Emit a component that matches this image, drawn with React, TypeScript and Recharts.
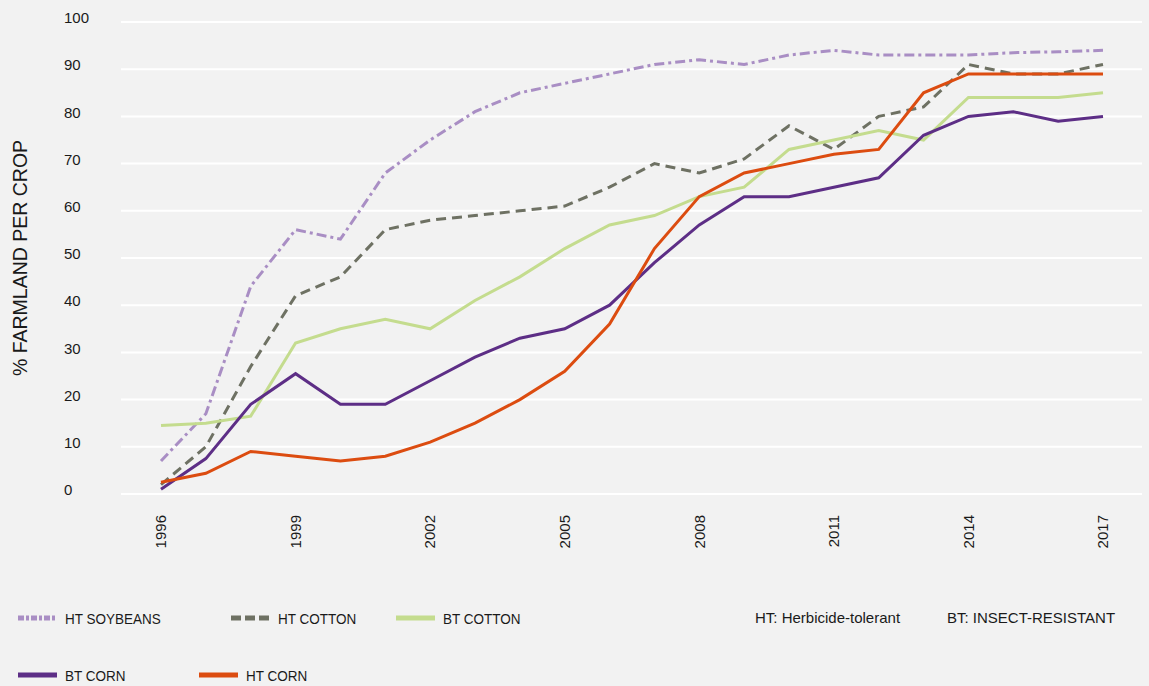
import React from "react";
import { LineChart, Line, XAxis, YAxis, CartesianGrid } from "recharts";

const FONT = "'Liberation Sans', Arial, Helvetica, sans-serif";

const years = [
  1996, 1997, 1998, 1999, 2000, 2001, 2002, 2003, 2004, 2005, 2006,
  2007, 2008, 2009, 2010, 2011, 2012, 2013, 2014, 2015, 2016, 2017,
];
const htSoybeans = [7, 17, 44, 56, 54, 68, 75, 81, 85, 87, 89, 91, 92, 91, 93, 94, 93, 93, 93, 93.5, 93.7, 94];
const htCotton = [2, 10, 27, 42, 46, 56, 58, 59, 60, 61, 65, 70, 68, 71, 78, 73, 80, 82, 91, 89, 89, 91];
const btCotton = [14.5, 15, 16.5, 32, 35, 37, 35, 41, 46, 52, 57, 59, 63, 65, 73, 75, 77, 75, 84, 84, 84, 85];
const btCorn = [1, 7.5, 19, 25.5, 19, 19, 24, 29, 33, 35, 40, 49, 57, 63, 63, 65, 67, 76, 80, 81, 79, 80];
const htCorn = [2.5, 4.4, 9, 8, 7, 8, 11, 15, 20, 26, 36, 52, 63, 68, 70, 72, 73, 85, 89, 89, 89, 89];
const yTicks = [0, 10, 20, 30, 40, 50, 60, 70, 80, 90, 100];

const rows = years.map((year, i) => ({
  year,
  htSoybeans: htSoybeans[i],
  htCotton: htCotton[i],
  btCotton: btCotton[i],
  btCorn: btCorn[i],
  htCorn: htCorn[i],
}));

const SERIES = [
  { key: "htSoybeans", name: "HT SOYBEANS", color: "#a98ec4", dash: "10 4 3 4", legendDash: "6 2 3 2" },
  { key: "htCotton", name: "HT COTTON", color: "#6e7163", dash: "10 6", legendDash: "10 4" },
  { key: "btCotton", name: "BT COTTON", color: "#c4dc8e", dash: undefined, legendDash: undefined },
  { key: "btCorn", name: "BT CORN", color: "#5d2e86", dash: undefined, legendDash: undefined },
  { key: "htCorn", name: "HT CORN", color: "#dc4c10", dash: undefined, legendDash: undefined },
];

// legend grid: [series index, left, top]
const LEGEND_SLOTS: [number, number, number][] = [
  [0, 18, 618],
  [1, 231, 618],
  [2, 396, 618],
  [3, 18, 675],
  [4, 199, 675],
];

const YTick = (props: any) => {
  const { y, payload } = props;
  return (
    <text x={64} y={y - 4} dy="0.35em" textAnchor="start" fontFamily={FONT} fontSize={15} fill="#1a1a1a">
      {payload.value}
    </text>
  );
};

const XTick = (props: any) => {
  const { x, y, payload } = props;
  return (
    <g transform={`translate(${x},${y + 13})`}>
      <text transform="rotate(-90)" textAnchor="end" dy="0.35em" fontFamily={FONT} fontSize={15} fill="#1a1a1a">
        {payload.value}
      </text>
    </g>
  );
};

const KeyLegend = () => (
  <>
    {LEGEND_SLOTS.map(([idx, left, top]) => {
      const s = SERIES[idx];
      return (
        <div
          key={s.key}
          style={{ position: "absolute", left, top: top - 10, display: "flex", alignItems: "center", height: 20 }}
        >
          <svg width={39} height={8} style={{ marginRight: 8 }}>
            <line x1={0} y1={4} x2={39} y2={4} stroke={s.color} strokeWidth={5} strokeDasharray={s.legendDash} />
          </svg>
          <span style={{ display: "inline-block", transform: "scaleX(0.9)", transformOrigin: "left center", whiteSpace: "nowrap" }}>
            {s.name}
          </span>
        </div>
      );
    })}
    <div style={{ position: "absolute", left: 755, top: 608, height: 20, lineHeight: "20px" }}>HT: Herbicide-tolerant</div>
    <div style={{ position: "absolute", left: 947, top: 608, height: 20, lineHeight: "20px" }}>BT: INSECT-RESISTANT</div>
  </>
);

export default function App() {
  return (
    <div
      style={{
        position: "fixed",
        left: 0,
        top: 0,
        width: 1149,
        height: 686,
        background: "#f2f2f2",
        overflow: "hidden",
        fontFamily: FONT,
        fontSize: 15,
        color: "#1a1a1a",
      }}
    >
      <div
        style={{
          position: "absolute",
          left: 20,
          top: 258,
          transform: "translate(-50%, -50%) rotate(-90deg)",
          fontSize: 19.5,
          whiteSpace: "nowrap",
        }}
      >
        % FARMLAND PER CROP
      </div>
      <LineChart
        width={1149}
        height={560}
        data={rows}
        margin={{ top: 22, right: 7, left: 61, bottom: 6 }}
        style={{ position: "absolute", left: 0, top: 0 }}
      >
        <CartesianGrid vertical={false} stroke="#ffffff" strokeWidth={2} />
        <XAxis
          dataKey="year"
          interval={2}
          axisLine={false}
          tickLine={false}
          padding={{ left: 40, right: 39 }}
          height={60}
          tick={<XTick />}
        />
        <YAxis
          domain={[0, 100]}
          ticks={yTicks}
          axisLine={false}
          tickLine={false}
          width={60}
          tick={<YTick />}
        />
        {SERIES.map((s) => (
          <Line
            key={s.key}
            type="linear"
            dataKey={s.key}
            name={s.name}
            stroke={s.color}
            strokeWidth={3}
            strokeDasharray={s.dash}
            dot={false}
            activeDot={false}
            isAnimationActive={false}
          />
        ))}
      </LineChart>
      <KeyLegend />
    </div>
  );
}
